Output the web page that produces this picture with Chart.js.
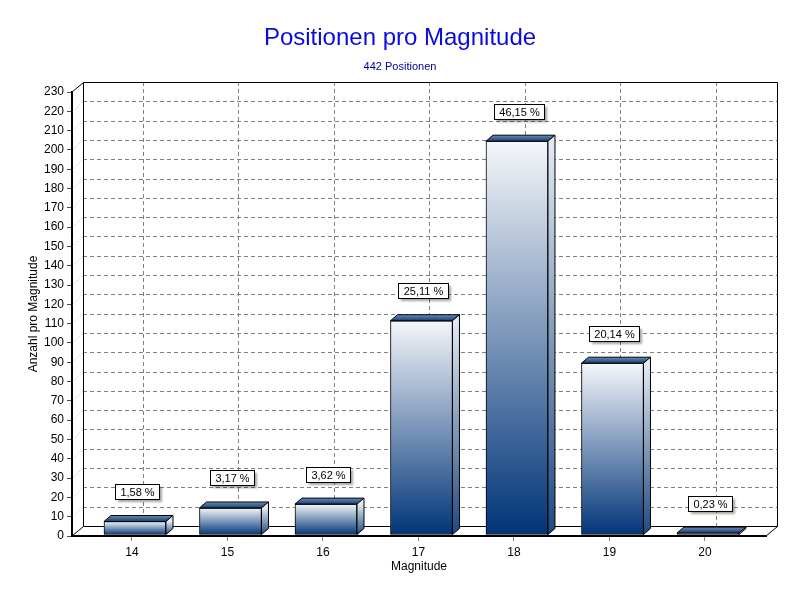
<!DOCTYPE html>
<html>
<head>
<meta charset="utf-8">
<script src="https://cdn.jsdelivr.net/npm/chart.js@4.4.1/dist/chart.umd.min.js"></script>
<style>
  html, body { margin: 0; padding: 0; background: #fff; }
</style>
</head>
<body>
<canvas id="chart" width="800" height="600"></canvas>
<script>
// data
const magnitudes = [14, 15, 16, 17, 18, 19, 20];
const counts = [7, 14, 16, 111, 204, 89, 1];
const percentLabels = ["1,58 %", "3,17 %", "3,62 %", "25,11 %", "46,15 %", "20,14 %", "0,23 %"];
const yMin = 0, yMax = 230, yStep = 10;

// 3d look
const wall = { dx: 11, dy: 10 };   // back wall offset from the front plane
const box = { dx: 7, dy: 6 };      // depth of a bar
const barShift = 3;                // bars stand a bit behind the front plane

const FONT = "'Liberation Sans', Arial, sans-serif";
Chart.defaults.font.family = FONT;
Chart.defaults.font.size = 12;
Chart.defaults.color = "#000";

function line(ctx, x1, y1, x2, y2) {
  ctx.beginPath();
  ctx.moveTo(x1, y1);
  ctx.lineTo(x2, y2);
  ctx.stroke();
}

// back wall, floor and dashed grid
const wallPlugin = {
  id: "wall",
  beforeDatasetsDraw(chart) {
    const { ctx, chartArea: a, scales: { x, y } } = chart;
    ctx.save();
    ctx.lineWidth = 1;

    // horizontal dashed lines
    ctx.strokeStyle = "#808080";
    ctx.setLineDash([4, 3]);
    for (let v = yMin + yStep; v < yMax; v += yStep) {
      const py = Math.round(y.getPixelForValue(v) - wall.dy) + 0.5;
      line(ctx, a.left + wall.dx, py, a.right + wall.dx, py);
    }
    // vertical dashed lines
    magnitudes.forEach(m => {
      const px = Math.round(x.getPixelForValue(m) + wall.dx) + 0.5;
      line(ctx, px, a.top - wall.dy, px, a.bottom - wall.dy);
    });

    // little dotted diagonals from the axis ticks
    ctx.strokeStyle = "#b8b8b8";
    ctx.setLineDash([1, 2]);
    for (let v = yMin + yStep; v < yMax; v += yStep) {
      const py = y.getPixelForValue(v);
      line(ctx, a.left + 1, py, a.left + wall.dx, py - wall.dy);
    }

    // frame
    ctx.setLineDash([]);
    ctx.strokeStyle = "#000";
    const L = a.left + wall.dx + 0.5, R = a.right + wall.dx + 0.5;
    const T = a.top - wall.dy + 0.5, B = a.bottom - wall.dy + 0.5;
    ctx.beginPath();
    ctx.moveTo(L, B);
    ctx.lineTo(L, T);
    ctx.lineTo(R, T);
    ctx.lineTo(R, B);
    ctx.lineTo(L, B);
    ctx.stroke();
    line(ctx, a.left, a.top, L, T);
    line(ctx, a.left, a.bottom, L, B);
    line(ctx, a.right, a.bottom, R, B);
    ctx.restore();
  },
  beforeDatasetDraw(chart) {
    chart.ctx.save();
    chart.ctx.translate(barShift, -1);
  },
  afterDatasetDraw(chart) {
    chart.ctx.restore();
  },
  afterDatasetsDraw(chart) {
    const { ctx } = chart;
    const meta = chart.getDatasetMeta(0);
    ctx.save();
    ctx.lineWidth = 1;
    ctx.strokeStyle = "#000";
    meta.data.forEach((bar, i) => {
      const p = bar.getProps(["x", "y", "base", "width"], true);
      const l = p.x - p.width / 2 + barShift;
      const r = p.x + p.width / 2 + barShift;
      const t = p.y - 1, b = p.base - 1;

      // top face
      const gTop = ctx.createLinearGradient(0, t - box.dy, 0, t);
      gTop.addColorStop(0, "#6a8cb6");
      gTop.addColorStop(1, "#173f73");
      ctx.beginPath();
      ctx.moveTo(l, t);
      ctx.lineTo(l + box.dx, t - box.dy);
      ctx.lineTo(r + box.dx, t - box.dy);
      ctx.lineTo(r, t);
      ctx.closePath();
      ctx.fillStyle = gTop;
      ctx.fill();
      ctx.stroke();

      // side face
      const gSide = ctx.createLinearGradient(0, t, 0, b);
      gSide.addColorStop(0, "#e4eaf2");
      gSide.addColorStop(1, "#1d4a82");
      ctx.beginPath();
      ctx.moveTo(r, t);
      ctx.lineTo(r + box.dx, t - box.dy);
      ctx.lineTo(r + box.dx, b - box.dy);
      ctx.lineTo(r, b);
      ctx.closePath();
      ctx.fillStyle = gSide;
      ctx.fill();
      ctx.stroke();

      // percent label
      ctx.font = "11px " + FONT;
      const text = percentLabels[i];
      const w = Math.round(ctx.measureText(text).width) + 10, h = 15;
      const bx = Math.round(p.x + barShift + 2 - w / 2) + 0.5;
      const by = Math.round(t - 30 - h / 2) + 0.5;
      ctx.save();
      ctx.shadowColor = "rgba(0,0,0,0.35)";
      ctx.shadowOffsetX = 2;
      ctx.shadowOffsetY = 2;
      ctx.shadowBlur = 2;
      ctx.fillStyle = "#fff";
      ctx.fillRect(bx, by, w, h);
      ctx.restore();
      ctx.strokeRect(bx, by, w, h);
      ctx.fillStyle = "#000";
      ctx.textAlign = "center";
      ctx.textBaseline = "middle";
      ctx.fillText(text, bx + w / 2, by + h / 2 + 0.5);
    });
    ctx.restore();
  }
};

new Chart(document.getElementById("chart").getContext("2d"), {
  type: "bar",
  data: {
    datasets: [{
      data: counts.map((c, i) => ({ x: magnitudes[i], y: c })),
      barThickness: 62,
      borderWidth: 1,
      borderColor: "#000",
      borderSkipped: false,
      backgroundColor: (c) => {
        const y = c.chart.scales.y;
        if (!y || c.dataIndex === undefined) return "#003478";
        const top = y.getPixelForValue(counts[c.dataIndex]);
        const bottom = y.getPixelForValue(0);
        if (!isFinite(top) || !isFinite(bottom) || top === bottom) return "#003478";
        const g = c.chart.ctx.createLinearGradient(0, top, 0, bottom);
        g.addColorStop(0, "#f5f7fa");
        g.addColorStop(1, "#003478");
        return g;
      }
    }]
  },
  options: {
    responsive: false,
    animation: false,
    layout: { padding: 0 },
    plugins: {
      legend: { display: false },
      tooltip: { enabled: false },
      title: {
        display: true,
        text: "Positionen pro Magnitude",
        color: "#0a0ade",
        font: { size: 24, weight: "normal" },
        padding: { top: 24, bottom: 0 }
      },
      subtitle: {
        display: true,
        text: "442 Positionen",
        color: "#000090",
        font: { size: 11 },
        padding: { top: 7.5, bottom: 18.5 }
      }
    },
    scales: {
      x: {
        type: "linear",
        offset: false,
        min: 13.372,
        max: 20.639,
        afterFit: (s) => { s.height = 64; },
        ticks: { stepSize: 1, includeBounds: false, padding: 4, font: { size: 12 } },
        grid: { offset: false, drawOnChartArea: false, drawTicks: true, tickLength: 5, color: "#808080" },
        border: { display: true, color: "#000", width: 2 },
        title: { display: true, text: "Magnitude", font: { size: 12 }, padding: { top: 0, bottom: 26 } }
      },
      y: {
        min: yMin,
        max: yMax,
        afterFit: (s) => { s.width = 72; },
        ticks: { stepSize: yStep, padding: 3, font: { size: 12 } },
        grid: { drawOnChartArea: false, drawTicks: true, tickLength: 5, color: "#505050" },
        border: { display: true, color: "#000", width: 2 },
        title: { display: true, text: "Anzahl pro Magnitude", font: { size: 12 }, padding: { top: 26.5, bottom: 0 } }
      },
      // empty strip on the right, keeps the title centred on the page
      yRight: {
        position: "right",
        min: yMin,
        max: yMax,
        afterFit: (s) => { s.width = 34; },
        ticks: { display: false },
        grid: { display: false },
        border: { display: false }
      }
    }
  },
  plugins: [wallPlugin]
});
</script>
</body>
</html>
